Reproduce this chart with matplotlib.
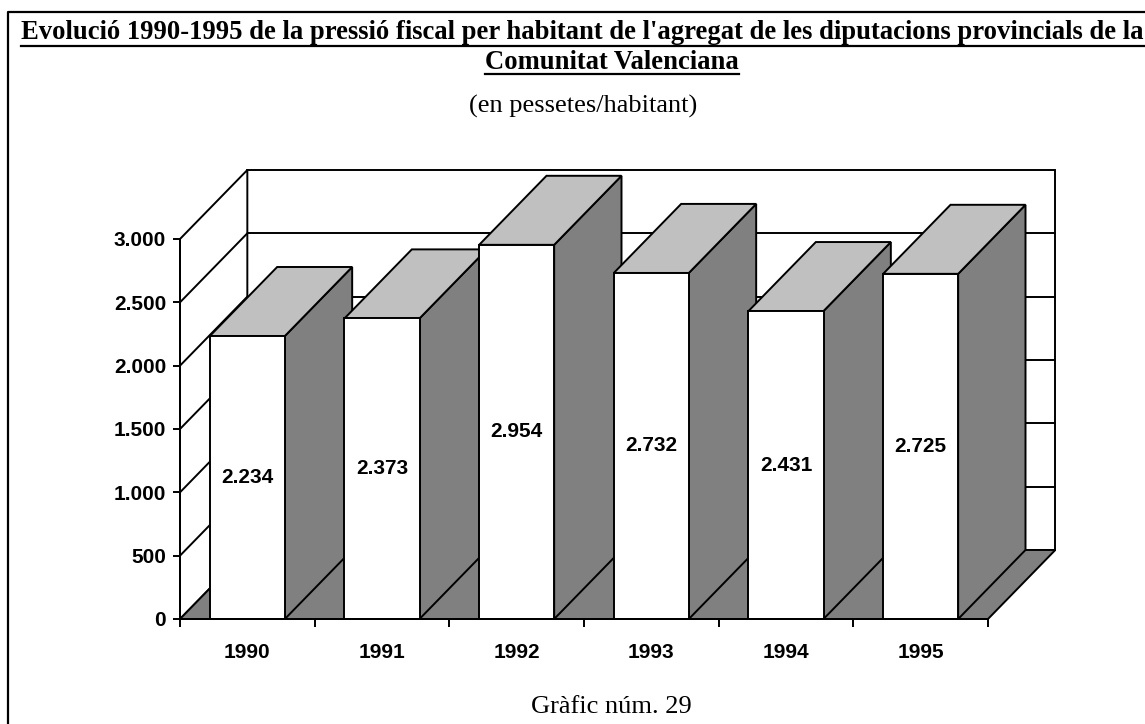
import numpy as np
import matplotlib
matplotlib.use("Agg")
from matplotlib import pyplot as plt
from matplotlib.patches import Polygon
from matplotlib.lines import Line2D

# data
years = ['1990', '1991', '1992', '1993', '1994', '1995']
values = [2234, 2373, 2954, 2732, 2431, 2725]
yticks = [0, 500, 1000, 1500, 2000, 2500, 3000]

title1 = "Evolució 1990-1995 de la pressió fiscal per habitant de l'agregat de les diputacions provincials de la"
title2 = "Comunitat Valenciana"
subtitle = "(en pessetes/habitant)"
caption = "Gràfic núm. 29"

W, H = 1145, 724
fig = plt.figure(figsize=(W / 100, H / 100), dpi=100)
ax = fig.add_axes([0, 0, 1, 1])

# pixel layout of the front plane
px0, py0 = 180, 619        # origin (x=0, y=0) in pixels from top-left
ppx = 808 / 6              # pixels per category
ppy = 380 / 3000           # pixels per unit
ax.set_xlim(-px0 / ppx, (W - px0) / ppx)
ax.set_ylim(-(H - py0) / ppy, py0 / ppy)

dx = 0.5                   # depth offset (categories)
dy = 545                   # depth offset (units)
bw = 0.557                 # bar front width
ymax = 3000
n = len(years)
lw = 1.4
grey = '#808080'
light = '#c0c0c0'
sans = 'Liberation Sans'
serif = 'Liberation Serif'

def poly(pts, fc, z):
    ax.add_patch(Polygon(pts, closed=True, facecolor=fc, edgecolor='black',
                         linewidth=lw, joinstyle='miter', zorder=z))

def fmt(v):
    return f"{v:,}".replace(',', '.')

# back wall
poly([(dx, dy), (n + dx, dy), (n + dx, ymax + dy), (dx, ymax + dy)], 'white', 1)
for v in yticks[1:-1]:
    ax.plot([dx, n + dx], [v + dy, v + dy], color='black', lw=lw, zorder=1.1)
# left wall
poly([(0, 0), (dx, dy), (dx, ymax + dy), (0, ymax)], 'white', 1.2)
for v in yticks[1:-1]:
    ax.plot([0, dx], [v, v + dy], color='black', lw=lw, zorder=1.3)
# floor
poly([(0, 0), (n, 0), (n + dx, dy), (dx, dy)], grey, 1.4)

# bars, drawn left to right so each front face hides the previous side face
for i, v in enumerate(values):
    x0 = i + 0.5 - bw / 2
    x1 = i + 0.5 + bw / 2
    z = 2 + i * 0.1
    poly([(x1, 0), (x1 + dx, dy), (x1 + dx, v + dy), (x1, v)], grey, z)
    poly([(x0, v), (x1, v), (x1 + dx, v + dy), (x0 + dx, v + dy)], light, z + 0.01)
    poly([(x0, 0), (x1, 0), (x1, v), (x0, v)], 'white', z + 0.02)
    ax.text(i + 0.5, v / 2, fmt(v), ha='center', va='center',
            fontsize=15, fontweight='bold', family=sans, zorder=z + 0.03)

# axis lines and ticks
for s in ['top', 'right']:
    ax.spines[s].set_visible(False)
ax.spines['left'].set_position(('data', 0))
ax.spines['left'].set_bounds(0, ymax)
ax.spines['bottom'].set_position(('data', 0))
ax.spines['bottom'].set_bounds(0, n)
for s in ['left', 'bottom']:
    ax.spines[s].set_linewidth(lw)
    ax.spines[s].set_zorder(5)
ax.set_yticks(yticks)
ax.set_yticklabels([fmt(v) for v in yticks])
ax.set_xticks(np.arange(n + 1))
ax.set_xticklabels([])
ax.set_xticks(np.arange(n) + 0.5, minor=True)
ax.set_xticklabels(years, minor=True)
ax.tick_params(axis='y', direction='out', length=5, width=lw, pad=5)
ax.tick_params(axis='x', which='major', direction='out', length=5.8, width=lw)
ax.tick_params(axis='x', which='minor', length=0, pad=17)
for lab in ax.get_yticklabels() + ax.get_xticklabels(minor=True):
    lab.set_fontsize(15)
    lab.set_fontweight('bold')
    lab.set_family(sans)
ax.patch.set_visible(False)

# texts
t1 = fig.text(21 / W, 1 - 39 / H, title1, ha='left', va='baseline', fontsize=19.2,
              fontweight='bold', family=serif)
t2 = fig.text(612 / W, 1 - 69 / H, title2, ha='center', va='baseline', fontsize=19.2,
              fontweight='bold', family=serif)
fig.text(583 / W, 1 - 113 / H, subtitle, ha='center', va='baseline', fontsize=19,
         family=serif)
fig.text(611 / W, 1 - 713 / H, caption, ha='center', va='baseline', fontsize=19,
         family=serif)

# underline the title lines
r = fig.canvas.get_renderer()
for t, uy in [(t1, 46), (t2, 74)]:
    bb = t.get_window_extent(renderer=r)
    fig.add_artist(Line2D([bb.x0 / W, bb.x1 / W], [1 - uy / H, 1 - uy / H],
                          color='black', lw=1.6, transform=fig.transFigure))

# frame around the figure
fig.add_artist(Line2D([8 / W, 8 / W, 1.01], [0, 1 - 12 / H, 1 - 12 / H],
                      color='black', lw=1.6, transform=fig.transFigure))

fig.savefig('out.png', dpi=100)
